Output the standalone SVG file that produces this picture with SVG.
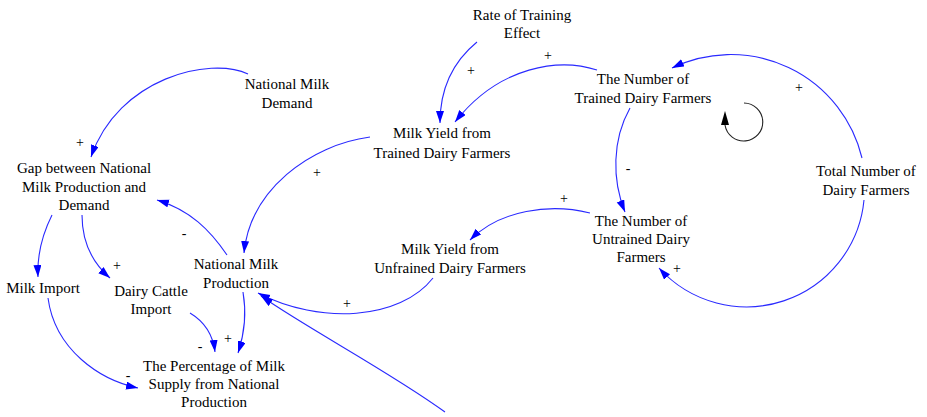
<svg xmlns="http://www.w3.org/2000/svg" width="927" height="417" viewBox="0 0 927 417">
<defs>
<marker id="a" markerUnits="userSpaceOnUse" markerWidth="14" markerHeight="10" refX="12" refY="4" orient="auto">
<path d="M0,0 L12,4 L0,8 z" fill="#0000ff" stroke="none"/>
</marker>
</defs>
<rect width="927" height="417" fill="#fff"/>
<g id="connectors" fill="none" stroke="#2a2aff" stroke-width="1.1">
<path marker-end="url(#a)" d="M248,74 C210,56 118,78 91,157"/>
<path marker-end="url(#a)" d="M477,42 C455,60 440,85 440,123"/>
<path marker-end="url(#a)" d="M597,70 C560,58 500,65 455,122"/>
<path marker-end="url(#a)" d="M370,137 C310,145 250,190 244,253"/>
<path marker-end="url(#a)" d="M227,255 C210,230 190,210 157,200"/>
<path marker-end="url(#a)" d="M52,215 C42,235 37,255 38,277"/>
<path marker-end="url(#a)" d="M82,215 C82,245 95,265 110,278"/>
<path marker-end="url(#a)" d="M48,298 C55,350 100,380 138,388"/>
<path marker-end="url(#a)" d="M190,313 C205,322 213,335 215,352"/>
<path marker-end="url(#a)" d="M243,292 C247,315 244,335 238,353"/>
<path marker-end="url(#a)" d="M433,278 C400,320 320,325 258,293"/>
<path marker-end="url(#a)" d="M445,412 C390,372 310,330 261,296"/>
<path marker-end="url(#a)" d="M590,213 C550,203 500,210 470,240"/>
<path marker-end="url(#a)" d="M630,108 C612,140 612,180 625,212"/>
<path marker-end="url(#a)" d="M862,158 A135 135 0 0 0 672,68"/>
<path marker-end="url(#a)" d="M864,200 A118 118 0 0 1 659,268"/>
<path d="M744,103 A19 19 0 1 1 725,125" stroke="#222"/>
<polygon points="725,111 721,125 729,125" fill="#000" stroke="none"/>
</g>
<g id="signs">
<text font-family="Times New Roman" font-size="14" text-anchor="middle" x="80" y="147">+</text>
<text font-family="Times New Roman" font-size="14" text-anchor="middle" x="471" y="75">+</text>
<text font-family="Times New Roman" font-size="14" text-anchor="middle" x="548" y="60">+</text>
<text font-family="Times New Roman" font-size="14" text-anchor="middle" x="317" y="177">+</text>
<text font-family="Times New Roman" font-size="14" text-anchor="middle" x="184" y="238">-</text>
<text font-family="Times New Roman" font-size="14" text-anchor="middle" x="117" y="270">+</text>
<text font-family="Times New Roman" font-size="14" text-anchor="middle" x="128" y="380">-</text>
<text font-family="Times New Roman" font-size="14" text-anchor="middle" x="200" y="351">-</text>
<text font-family="Times New Roman" font-size="14" text-anchor="middle" x="228" y="343">+</text>
<text font-family="Times New Roman" font-size="14" text-anchor="middle" x="347" y="308">+</text>
<text font-family="Times New Roman" font-size="14" text-anchor="middle" x="564" y="203">+</text>
<text font-family="Times New Roman" font-size="14" text-anchor="middle" x="628" y="173">-</text>
<text font-family="Times New Roman" font-size="14" text-anchor="middle" x="799" y="92">+</text>
<text font-family="Times New Roman" font-size="14" text-anchor="middle" x="677" y="273">+</text>
</g>
<g id="rate"><text font-family="Times New Roman" font-size="15" text-anchor="middle" x="522" y="20">Rate of Training</text><text font-family="Times New Roman" font-size="15" text-anchor="middle" x="522" y="38">Effect</text></g>
<g id="demand"><text font-family="Times New Roman" font-size="15" text-anchor="middle" x="287" y="89">National Milk</text><text font-family="Times New Roman" font-size="15" text-anchor="middle" x="287" y="108">Demand</text></g>
<g id="gap"><text font-family="Times New Roman" font-size="15" text-anchor="middle" x="84" y="173">Gap between National</text><text font-family="Times New Roman" font-size="15" text-anchor="middle" x="84" y="192">Milk Production and</text><text font-family="Times New Roman" font-size="15" text-anchor="middle" x="84" y="210">Demand</text></g>
<g id="yieldTrained"><text font-family="Times New Roman" font-size="15" text-anchor="middle" x="442" y="138">Milk Yield from</text><text font-family="Times New Roman" font-size="15" text-anchor="middle" x="442" y="158">Trained Dairy Farmers</text></g>
<g id="trained"><text font-family="Times New Roman" font-size="15" text-anchor="middle" x="643" y="84">The Number of</text><text font-family="Times New Roman" font-size="15" text-anchor="middle" x="643" y="103">Trained Dairy Farmers</text></g>
<g id="total"><text font-family="Times New Roman" font-size="15" text-anchor="middle" x="866" y="176">Total Number of</text><text font-family="Times New Roman" font-size="15" text-anchor="middle" x="866" y="195">Dairy Farmers</text></g>
<g id="untrained"><text font-family="Times New Roman" font-size="15" text-anchor="middle" x="641" y="226">The Number of</text><text font-family="Times New Roman" font-size="15" text-anchor="middle" x="641" y="244">Untrained Dairy</text><text font-family="Times New Roman" font-size="15" text-anchor="middle" x="641" y="262">Farmers</text></g>
<g id="yieldUntrained"><text font-family="Times New Roman" font-size="15" text-anchor="middle" x="450" y="254">Milk Yield from</text><text font-family="Times New Roman" font-size="15" text-anchor="middle" x="450" y="273">Unfrained Dairy Farmers</text></g>
<g id="production"><text font-family="Times New Roman" font-size="15" text-anchor="middle" x="236" y="269">National Milk</text><text font-family="Times New Roman" font-size="15" text-anchor="middle" x="236" y="288">Production</text></g>
<g id="milkImport"><text font-family="Times New Roman" font-size="15" text-anchor="middle" x="43" y="293">Milk Import</text></g>
<g id="cattleImport"><text font-family="Times New Roman" font-size="15" text-anchor="middle" x="151" y="296">Dairy Cattle</text><text font-family="Times New Roman" font-size="15" text-anchor="middle" x="151" y="314">Import</text></g>
<g id="percentage"><text font-family="Times New Roman" font-size="15" text-anchor="middle" x="214" y="371">The Percentage of Milk</text><text font-family="Times New Roman" font-size="15" text-anchor="middle" x="214" y="389">Supply from National</text><text font-family="Times New Roman" font-size="15" text-anchor="middle" x="214" y="407">Production</text></g>
</svg>
